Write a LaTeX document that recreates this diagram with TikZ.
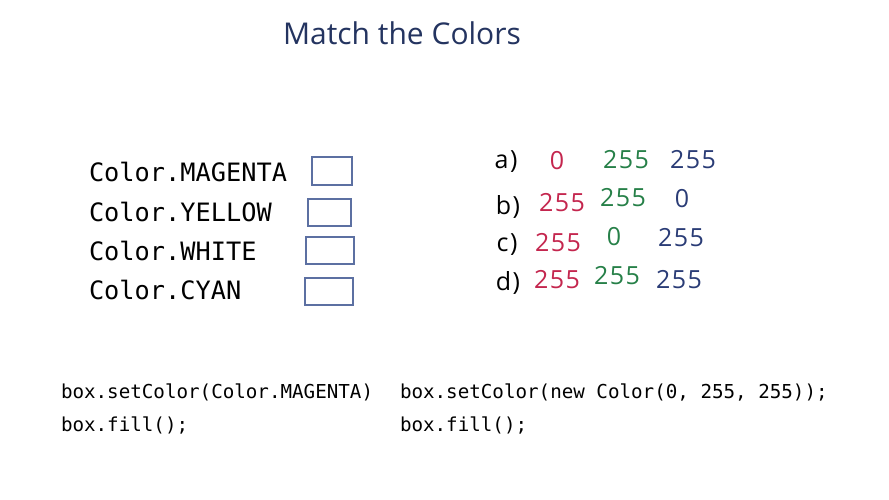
\documentclass[tikz,border=0pt]{standalone}
\usepackage{fontspec}
\setmainfont{Open Sans}
\setmonofont{DejaVu Sans Mono}
\newfontfamily\handfont[LetterSpace=6]{Open Sans}
\definecolor{titleblue}{RGB}{36,52,96}
\definecolor{boxblue}{RGB}{92,112,162}
\definecolor{hred}{RGB}{196,38,78}
\definecolor{hgreen}{RGB}{38,128,72}
\definecolor{hblue}{RGB}{42,60,118}
\begin{document}
\begin{tikzpicture}[x=1pt,y=-1pt,
  every node/.style={inner sep=0pt,outer sep=0pt},
  title/.style={font=\fontsize{30}{30}\selectfont,text=titleblue,anchor=base},
  lbl/.style={font=\ttfamily\fontsize{25.3}{25.3}\selectfont,anchor=base west},
  cbox/.style={draw=boxblue,line width=1.3pt},
  code/.style={font=\ttfamily\fontsize{19.2}{19.2}\selectfont,anchor=base west},
  hand/.style={font=\handfont\fontsize{25}{25}\selectfont,anchor=center},
  hr/.style={hand,text=hred},
  hg/.style={hand,text=hgreen},
  hb/.style={hand,text=hblue},
  hl/.style={hand,text=black}]
\useasboundingbox (0,0) rectangle (889,500);
\fill[white] (0,0) rectangle (889,500);
\node[title] (t) at (402,45) {Match the Colors};
% left labels
\node[lbl] (l1) at (89,182) {Color.MAGENTA};
\node[lbl] (l2) at (89,221) {Color.YELLOW};
\node[lbl] (l3) at (89,260) {Color.WHITE};
\node[lbl] (l4) at (89,299) {Color.CYAN};
\draw[cbox] (312,157) rectangle (352,185);
\draw[cbox] (308,199) rectangle (351,226);
\draw[cbox] (306,237) rectangle (354,264);
\draw[cbox] (305,278) rectangle (353,305);
% handwritten options
\node[hl] (a) at (506,162) {a)};
\node[hr] (a1) at (557,161) {0};
\node[hg] (a2) at (626,160) {255};
\node[hb] (a3) at (693,160) {255};
\node[hl] (b) at (508,207) {b)};
\node[hr] (b1) at (562,203) {255};
\node[hg] (b2) at (623,198) {255};
\node[hb] (b3) at (682,199) {0};
\node[hl] (c) at (507,245) {c)};
\node[hr] (c1) at (558,243) {255};
\node[hg] (c2) at (614,237) {0};
\node[hb] (c3) at (681,238) {255};
\node[hl] (d) at (508,283) {d)};
\node[hr] (d1) at (557,280) {255};
\node[hg] (d2) at (617,276) {255};
\node[hb] (d3) at (679,280) {255};
% code
\node[code] (k1) at (61,398) {box.setColor(Color.MAGENTA)};
\node[code] (k2) at (61,431) {box.fill();};
\node[code] (k3) at (400,398) {box.setColor(new Color(0, 255, 255));};
\node[code] (k4) at (400,431) {box.fill();};
\end{tikzpicture}
\end{document}
